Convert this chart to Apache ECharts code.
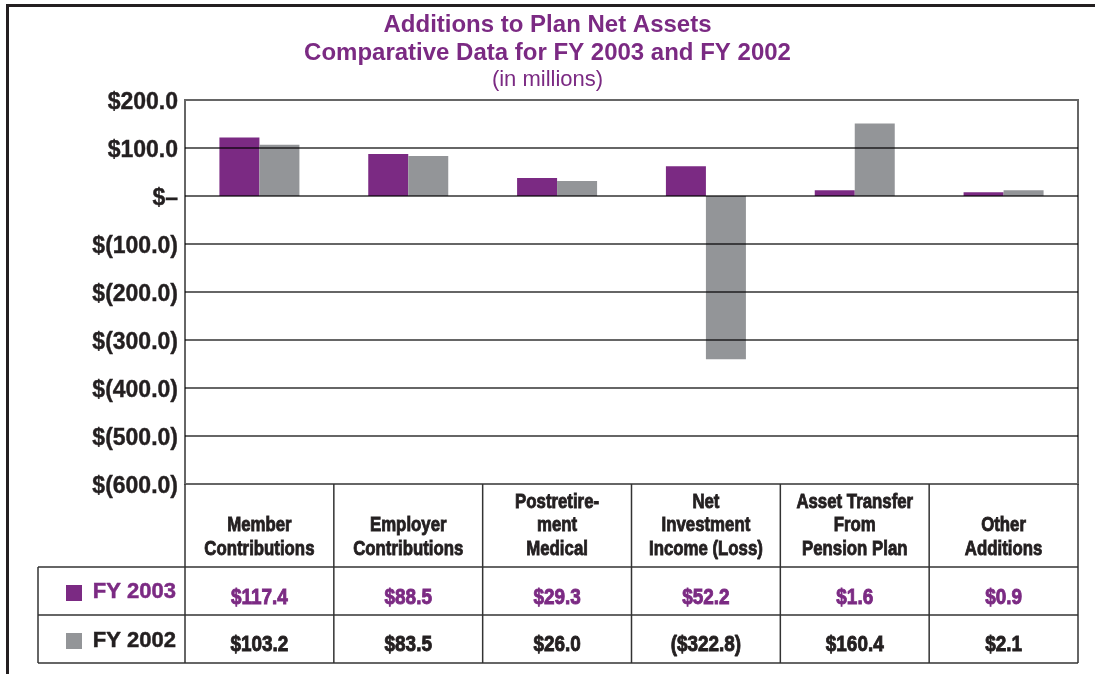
<!DOCTYPE html>
<html>
<head>
<meta charset="utf-8">
<script src="https://cdn.jsdelivr.net/npm/echarts@6/dist/echarts.min.js"></script>
<style>
html, body { margin: 0; padding: 0; background: #fff; }
#chart { width: 1095px; height: 674px; }
</style>
</head>
<body>
<div id="chart"></div>
<script>
// categories shown in the table header
var categories = ['Member\nContributions', 'Employer\nContributions', 'Postretire-\nment\nMedical',
                  'Net\nInvestment\nIncome (Loss)', 'Asset Transfer\nFrom\nPension Plan', 'Other\nAdditions'];
// bar heights as drawn in the picture (millions)
var fy2003Bars = [122, 87.5, 37.5, 62, 12, 8];
var fy2002Bars = [107, 83.3, 31, -340, 151, 12];
// values printed in the table
var fy2003Text = ['$117.4', '$88.5', '$29.3', '$52.2', '$1.6', '$0.9'];
var fy2002Text = ['$103.2', '$83.5', '$26.0', '($322.8)', '$160.4', '$2.1'];
var seriesNames = ['FY 2003', 'FY 2002'];

var purple = '#7b2a83';
var grey = '#939598';
var ink = '#231f20';
var arial = "'Liberation Sans', Arial, sans-serif";

var chart = echarts.init(document.getElementById('chart'));

function money(v){
    if (v == 0) return '$\u2013';
    if (v < 0) return '$(' + (-v).toFixed(1) + ')';
    return '$' + v.toFixed(1);
}

var option = {
    animation: false,
    title: {
        text: 'Additions to Plan Net Assets\nComparative Data for FY 2003 and FY 2002',
        subtext: '(in millions)',
        left: 'center',
        top: 7,
        itemGap: 0,
        textStyle: {color: purple, fontSize: 24, fontWeight: 'bold', fontFamily: arial, lineHeight: 27.5},
        subtextStyle: {color: purple, fontSize: 22, fontFamily: arial, lineHeight: 26}
    },
    grid: {
        left: 185, right: 17, top: 100, bottom: 190,
        show: true, borderColor: '#666', borderWidth: 2
    },
    xAxis: {
        type: 'category',
        data: categories,
        axisLine: {show: false},
        axisTick: {show: false},
        axisLabel: {show: false}
    },
    yAxis: {
        type: 'value',
        min: -600, max: 200, interval: 100,
        z: 3,
        axisLine: {show: false},
        axisTick: {show: false},
        splitLine: {show: true, showMinLine: false, showMaxLine: false,
                    lineStyle: {color: 'rgba(0,0,0,0.6)', width: 2}},
        axisLabel: {
            formatter: money, margin: 7, verticalAlign: 'top', lineHeight: 6,
            color: ink, fontSize: 23, fontWeight: 'bold', fontFamily: arial,
            textBorderColor: ink, textBorderWidth: 0.4
        }
    },
    series: [
        {name: seriesNames[0], type: 'bar', data: fy2003Bars, barWidth: 40, barGap: '0%',
         itemStyle: {color: purple}},
        {name: seriesNames[1], type: 'bar', data: fy2002Bars, barWidth: 40, barGap: '0%',
         itemStyle: {color: grey}}
    ]
};
chart.setOption(option);

// data table under the plot
var c0 = chart.convertToPixel({xAxisIndex: 0}, 0);
var c1 = chart.convertToPixel({xAxisIndex: 0}, 1);
var band = c1 - c0;
var tableLeft = c0 - band / 2;
var tableRight = tableLeft + band * categories.length;
var yHead = 484, yRow1 = 567, yRow2 = 615, yEnd = 663, legendLeft = 38;
var lineStyle = {stroke: '#333', lineWidth: 1.5};
var els = [];

function hline(y, x1, x2){
    els.push({type: 'line', shape: {x1: x1, y1: y, x2: x2, y2: y}, style: lineStyle});
}
function vline(x, y1, y2){
    els.push({type: 'line', shape: {x1: x, y1: y1, x2: x, y2: y2}, style: lineStyle});
}
// condensed look: squeeze a heavy bold face horizontally
function narrowText(x, y, txt, size, squeeze, color){
    els.push({type: 'text', x: x, y: y, scaleX: squeeze,
        style: {text: txt, align: 'center', verticalAlign: 'middle',
                fill: color, stroke: color, lineWidth: 0.9,
                font: 'bold ' + size + 'px ' + arial}});
}
hline(yRow1, legendLeft, tableRight);
hline(yRow2, legendLeft, tableRight);
hline(yEnd, legendLeft, tableRight);
vline(legendLeft, yRow1, yEnd);
for (var i = 0; i <= categories.length; i++){
    vline(tableLeft + band * i, yHead, yEnd);
}

categories.forEach(function(cat, idx){
    var cx = chart.convertToPixel({xAxisIndex: 0}, idx);
    var lines = cat.split('\n');
    lines.forEach(function(txt, k){
        narrowText(cx, 549 - (lines.length - 1 - k) * 23.3, txt, 21, 0.8, ink);
    });
    narrowText(cx, 598, fy2003Text[idx], 22, 0.86, purple);
    narrowText(cx, 645, fy2002Text[idx], 22, 0.86, ink);
});

// legend cells
els.push({type: 'rect', shape: {x: 66, y: 585, width: 16, height: 16}, style: {fill: purple}});
els.push({type: 'rect', shape: {x: 66, y: 633, width: 16, height: 16}, style: {fill: grey}});
els.push({type: 'text', x: 176, y: 592,
    style: {text: seriesNames[0], align: 'right', verticalAlign: 'middle', fill: purple,
            stroke: purple, lineWidth: 0.5, font: 'bold 22px ' + arial}});
els.push({type: 'text', x: 176, y: 641,
    style: {text: seriesNames[1], align: 'right', verticalAlign: 'middle', fill: ink,
            stroke: ink, lineWidth: 0.5, font: 'bold 22px ' + arial}});

// outer frame (top and left edges)
els.push({type: 'line', shape: {x1: 6, y1: 5.5, x2: 1095, y2: 5.5}, style: {stroke: ink, lineWidth: 3}});
els.push({type: 'line', shape: {x1: 7.5, y1: 4, x2: 7.5, y2: 674}, style: {stroke: ink, lineWidth: 3}});

chart.setOption({graphic: {elements: els}});
</script>
</body>
</html>
